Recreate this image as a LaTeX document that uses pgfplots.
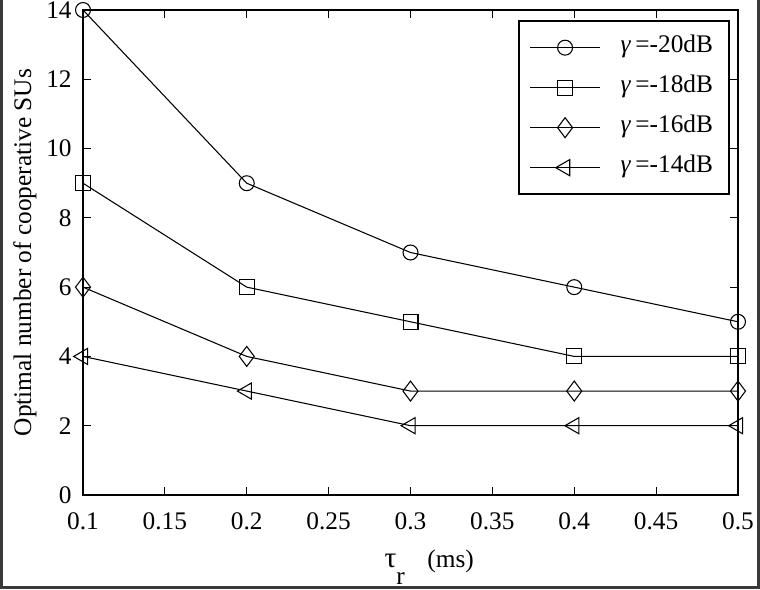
\documentclass[border=0pt]{standalone}
\usepackage{fontspec}
\setmainfont{Liberation Serif}
\usepackage{pgfplots}
\pgfplotsset{compat=1.18}
\definecolor{framegray}{HTML}{3A3A3A}
\begin{document}
\begin{tikzpicture}
\useasboundingbox (0pt,0pt) rectangle (570pt,441.75pt);
\draw[framegray, line width=2.25pt] (1.125pt,441.75pt) -- (1.125pt,1.125pt) -- (568.875pt,1.125pt) -- (568.875pt,441.75pt);
\begin{axis}[
  at={(62.25pt,70.5pt)}, anchor=south west,
  scale only axis, width=491.25pt, height=363.75pt,
  xmin=0.1, xmax=0.5, ymin=0, ymax=14,
  xtick={0.1,0.15,0.2,0.25,0.3,0.35,0.4,0.45,0.5},
  xticklabels={0.1,0.15,0.2,0.25,0.3,0.35,0.4,0.45,0.5},
  ytick={0,2,4,6,8,10,12,14},
  yticklabels={0,2,4,6,8,10,12,14},
  tick align=inside, major tick length=6pt,
  axis line style={line width=1.5pt},
  every tick/.style={black, line width=0.8pt},
  ticklabel style={font=\fontsize{19}{21}\selectfont},
  xticklabel style={yshift=-10pt},
  yticklabel style={xshift=-5pt},
  label style={font=\fontsize{19}{21}\selectfont},
  xlabel={{\fontsize{22}{24}\selectfont τ}\raisebox{-13pt}{r}\hspace{17pt}(ms)},
  xlabel style={at={(axis description cs:0.46,0)}, anchor=base west, yshift=-54pt, inner sep=0pt},
  ylabel={Optimal number of cooperative SUs},
  ylabel style={at={(axis description cs:0,0.5)}, anchor=center, yshift=43.5pt},
  clip=false,
  legend cell align=left,
  legend style={at={(1,1)}, anchor=north east, xshift=-6pt, yshift=-7.5pt,
    draw=black, line width=1.5pt, inner sep=8pt, row sep=6pt, column sep=11pt,
    font=\fontsize{19}{21}\selectfont,
    nodes={inner sep=4pt, text height=12pt, text depth=4pt}},
  legend image code/.code={\draw[mark repeat=2,mark phase=2,#1] plot coordinates {(0pt,0pt) (26.25pt,0pt) (52.5pt,0pt)};},
]
\addplot[black, line width=0.8pt, mark=o, mark size=5.6pt, mark options={solid}] coordinates {(0.1,14)(0.2,9)(0.3,7)(0.4,6)(0.5,5)};
\addlegendentry{\textit{γ}\,=-20dB}
\addplot[black, line width=0.8pt, mark=square, mark size=5.6pt, mark options={solid}] coordinates {(0.1,9)(0.2,6)(0.3,5)(0.4,4)(0.5,4)};
\addlegendentry{\textit{γ}\,=-18dB}
\addplot[black, line width=0.8pt, mark=diamond, mark size=7.5pt, mark options={solid}] coordinates {(0.1,6)(0.2,4)(0.3,3)(0.4,3)(0.5,3)};
\addlegendentry{\textit{γ}\,=-16dB}
\addplot[black, line width=0.8pt, mark=triangle, mark size=7pt, mark options={solid, rotate=90}] coordinates {(0.1,4)(0.2,3)(0.3,2)(0.4,2)(0.5,2)};
\addlegendentry{\textit{γ}\,=-14dB}
\end{axis}
\end{tikzpicture}
\end{document}
